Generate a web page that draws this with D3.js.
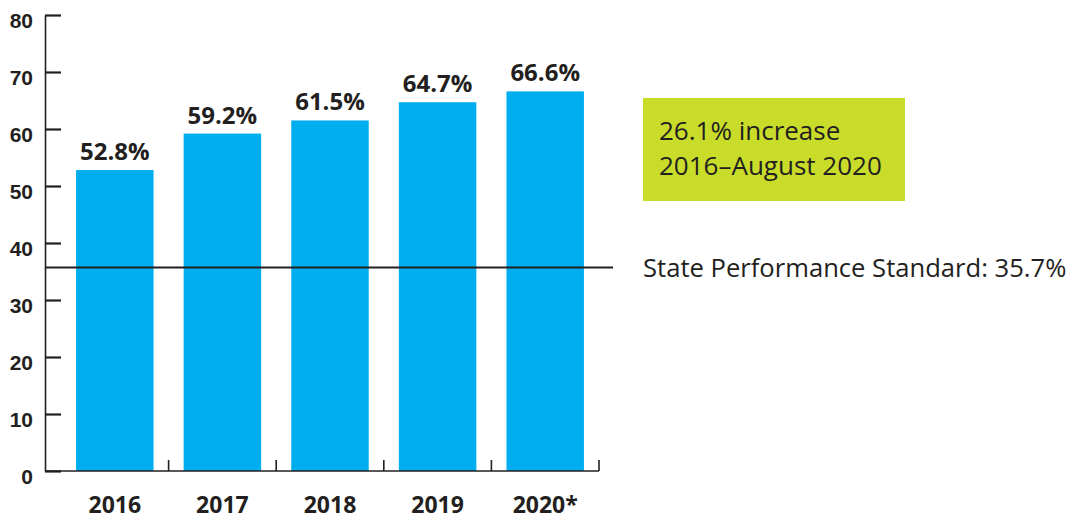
<!DOCTYPE html>
<html>
<head>
<meta charset="utf-8">
<script src="https://cdn.jsdelivr.net/npm/d3@7"></script>
<style>
  html, body { margin: 0; padding: 0; background: #ffffff; }
  svg { display: block; font-family: "Open Sans", "Noto Sans", sans-serif; }
</style>
</head>
<body>
<svg id="chart" width="1071" height="519"></svg>
<script>
const categories = ["2016", "2017", "2018", "2019", "2020*"];
const values = [52.8, 59.2, 61.5, 64.7, 66.6];
const valueLabels = ["52.8%", "59.2%", "61.5%", "64.7%", "66.6%"];
const yTicks = [0, 10, 20, 30, 40, 50, 60, 70, 80];
const standardValue = 35.7;
const standardLabel = "State Performance Standard: 35.7%";
const calloutLines = ["26.1% increase", "2016\u2013August 2020"];

const ink = "#231f20";
const barColor = "#00aeef";
const calloutColor = "#cadc2a";

const svg = d3.select("#chart");

const y = d3.scaleLinear().domain([0, 80]).range([471, 15]);
const x = d3.scaleBand().domain(categories).range([61, 599])
  .paddingInner(0.28).paddingOuter(0.14);

// bars
svg.append("g").selectAll("rect").data(values).join("rect")
  .attr("x", (d, i) => x(categories[i]))
  .attr("y", d => y(d))
  .attr("width", x.bandwidth())
  .attr("height", d => y(0) - y(d))
  .attr("fill", barColor);

// y axis
const yAxis = d3.axisLeft(y).tickValues(yTicks).tickSizeInner(-16).tickSizeOuter(0).tickPadding(12)
  .tickFormat(d3.format("d"));
const gy = svg.append("g").attr("transform", "translate(45,0)").call(yAxis);
gy.select(".domain").attr("stroke", ink).attr("stroke-width", 1.6);
gy.selectAll(".tick line").attr("stroke", ink).attr("stroke-width", 2.2);
gy.selectAll(".tick text").attr("fill", ink).attr("font-size", 21).attr("font-weight", 700)
  .attr("dy", "0.58em");

// x axis line + boundary ticks
const gx = svg.append("g");
gx.append("line").attr("x1", 45).attr("x2", x.range()[1]).attr("y1", y(0)).attr("y2", y(0))
  .attr("stroke", ink).attr("stroke-width", 1.6);
const gap = x.step() - x.bandwidth();
gx.selectAll("line.bt").data(categories).join("line").attr("class", "bt")
  .attr("x1", d => x(d) + x.bandwidth() + gap / 2)
  .attr("x2", d => x(d) + x.bandwidth() + gap / 2)
  .attr("y1", y(0)).attr("y2", y(0) - 11)
  .attr("stroke", ink).attr("stroke-width", 1.6);
gx.selectAll("text").data(categories).join("text")
  .attr("x", d => x(d) + x.bandwidth() / 2)
  .attr("y", 513)
  .attr("text-anchor", "middle")
  .attr("font-size", 23).attr("font-weight", 700).attr("fill", ink)
  .text(d => d);

// value labels
svg.append("g").selectAll("text").data(values).join("text")
  .attr("x", (d, i) => x(categories[i]) + x.bandwidth() / 2)
  .attr("y", d => y(d) - 10)
  .attr("text-anchor", "middle")
  .attr("font-size", 24).attr("font-weight", 700).attr("fill", ink)
  .text((d, i) => valueLabels[i]);

// standard line
svg.append("line")
  .attr("x1", 45).attr("x2", 613)
  .attr("y1", y(standardValue)).attr("y2", y(standardValue))
  .attr("stroke", ink).attr("stroke-width", 2.2);
svg.append("text")
  .attr("x", 643).attr("y", y(standardValue) + 9)
  .attr("font-size", 25.6).attr("fill", ink)
  .text(standardLabel);

// callout box
const cg = svg.append("g");
cg.append("rect").attr("x", 643).attr("y", 98).attr("width", 262).attr("height", 103)
  .attr("fill", calloutColor);
cg.selectAll("text").data(calloutLines).join("text")
  .attr("x", 659).attr("y", (d, i) => 140 + i * 35)
  .attr("font-size", 26).attr("fill", ink)
  .text(d => d);
</script>
</body>
</html>
